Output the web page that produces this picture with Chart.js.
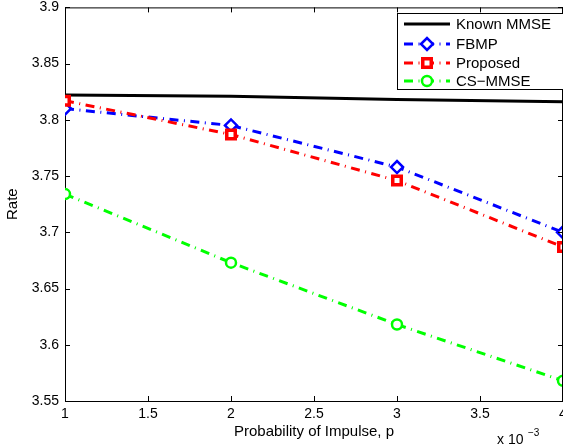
<!DOCTYPE html>
<html lang="en">
<head>
    <meta charset="UTF-8">
    <title>Rate vs Probability of Impulse</title>
    <script src="https://cdn.jsdelivr.net/npm/chart.js"></script>
    <style>
        body {
            margin: 0;
            padding: 0;
            background: #fff;
            overflow: hidden;
            width: 563px;
            height: 448px;
        }
        #rateChart {
            display: block;
            margin-top: -7px;
        }
    </style>
</head>
<body>
<canvas id="rateChart" width="620" height="455"></canvas>

<script>
    // values (p in units of 1e-3)
    const pValues = [1, 2, 3, 4];
    const knownMmse = [3.822, 3.821, 3.818, 3.816];
    const fbmp = [3.810, 3.795, 3.758, 3.700];
    const proposed = [3.817, 3.787, 3.746, 3.687];
    const csMmse = [3.734, 3.673, 3.618, 3.568];
    const xTicks = [1, 1.5, 2, 2.5, 3, 3.5, 4];
    const yTicks = [3.55, 3.6, 3.65, 3.7, 3.75, 3.8, 3.85, 3.9];

    const FONT = '"Liberation Sans", Arial, sans-serif';
    const dashDot = [9, 5.5, 1, 5.5];
    const SHIFT = 7; // canvas is pulled up by this much

    function toPoints(values) {
        return pValues.map((p, i) => ({ x: p, y: values[i] }));
    }

    // inward ticks, top/right box, exponent label and matlab-like legend
    const matlabFrame = {
        id: 'matlabFrame',
        afterDraw(chart) {
            const { ctx, chartArea: a, scales } = chart;
            ctx.save();
            ctx.strokeStyle = '#000';
            ctx.lineWidth = 1;
            ctx.beginPath();
            ctx.moveTo(a.left, a.top + 0.5);
            ctx.lineTo(a.right, a.top + 0.5);
            ctx.moveTo(a.right - 0.5, a.top);
            ctx.lineTo(a.right - 0.5, a.bottom);
            xTicks.forEach(v => {
                const x = Math.round(scales.x.getPixelForValue(v)) + 0.5;
                ctx.moveTo(x, a.bottom);
                ctx.lineTo(x, a.bottom - 5);
                ctx.moveTo(x, a.top);
                ctx.lineTo(x, a.top + 5);
            });
            yTicks.forEach(v => {
                const y = Math.round(scales.y.getPixelForValue(v)) + 0.5;
                ctx.moveTo(a.left, y);
                ctx.lineTo(a.left + 5, y);
                ctx.moveTo(a.right, y);
                ctx.lineTo(a.right - 5, y);
            });
            ctx.stroke();

            // x 10^-3
            ctx.fillStyle = '#000';
            ctx.textBaseline = 'alphabetic';
            ctx.textAlign = 'left';
            ctx.font = '14px ' + FONT;
            ctx.fillText('x 10', 497, 444 + SHIFT);
            ctx.font = '10px ' + FONT;
            ctx.fillText('\u22123', 528, 436 + SHIFT);

            // legend box
            const lx = 397, ly = 13 + SHIFT, lw = 220, lh = 76;
            ctx.fillStyle = '#fff';
            ctx.fillRect(lx, ly, lw, lh);
            ctx.strokeRect(lx + 0.5, ly + 0.5, lw, lh);
            const rows = [24, 44, 63, 81];
            chart.data.datasets.forEach((ds, i) => {
                const y = rows[i] + SHIFT;
                ctx.save();
                ctx.strokeStyle = ds.borderColor;
                ctx.lineWidth = ds.borderWidth;
                ctx.setLineDash(ds.borderDash || []);
                ctx.beginPath();
                ctx.moveTo(404, y);
                ctx.lineTo(450, y);
                ctx.stroke();
                ctx.restore();
                if (ds.pointRadius > 0) {
                    ctx.save();
                    ctx.fillStyle = '#fff';
                    ctx.strokeStyle = ds.borderColor;
                    ctx.lineWidth = ds.pointBorderWidth;
                    Chart.helpers.drawPoint(ctx, {
                        pointStyle: ds.pointStyle,
                        radius: ds.pointRadius,
                        borderWidth: ds.pointBorderWidth
                    }, 427, y);
                    ctx.restore();
                }
                ctx.fillStyle = '#000';
                ctx.font = '15px ' + FONT;
                ctx.textBaseline = 'middle';
                ctx.fillText(ds.label, 456, y + 1);
            });
            ctx.restore();
        }
    };

    const ctx = document.getElementById('rateChart').getContext('2d');
    new Chart(ctx, {
        type: 'line',
        data: {
            datasets: [
                {
                    label: 'Known MMSE',
                    data: toPoints(knownMmse),
                    borderColor: '#000',
                    borderWidth: 3,
                    pointRadius: 0,
                    order: 4
                },
                {
                    label: 'FBMP',
                    data: toPoints(fbmp),
                    borderColor: '#0000ff',
                    borderWidth: 3,
                    borderDash: dashDot,
                    pointStyle: 'rectRot',
                    pointRadius: 6,
                    pointBorderWidth: 2.5,
                    pointBorderColor: '#0000ff',
                    pointBackgroundColor: '#fff',
                    order: 3
                },
                {
                    label: 'Proposed',
                    data: toPoints(proposed),
                    borderColor: '#ff0000',
                    borderWidth: 3,
                    borderDash: dashDot,
                    pointStyle: 'rect',
                    pointRadius: 6,
                    pointBorderWidth: 3.5,
                    pointBorderColor: '#ff0000',
                    pointBackgroundColor: '#fff',
                    order: 2
                },
                {
                    label: 'CS\u2212MMSE',
                    data: toPoints(csMmse),
                    borderColor: '#00ff00',
                    borderWidth: 3,
                    borderDash: dashDot,
                    pointStyle: 'circle',
                    pointRadius: 5,
                    pointBorderWidth: 2.5,
                    pointBorderColor: '#00ff00',
                    pointBackgroundColor: '#fff',
                    order: 1
                }
            ]
        },
        options: {
            responsive: false,
            animation: false,
            layout: {
                padding: { top: 6, right: 57, left: 0, bottom: 0 }
            },
            plugins: {
                legend: { display: false },
                tooltip: { enabled: false }
            },
            scales: {
                x: {
                    type: 'linear',
                    min: 1,
                    max: 4,
                    afterBuildTicks: (scale) => { scale.ticks = xTicks.map(v => ({ value: v })); },
                    afterFit: (scale) => { scale.height = 47; },
                    grid: { display: false, drawTicks: false },
                    border: { display: true, color: '#000', width: 1 },
                    ticks: {
                        color: '#000',
                        font: { family: FONT, size: 14 },
                        padding: 5,
                        maxRotation: 0,
                        callback: (v) => String(v)
                    },
                    title: {
                        display: true,
                        text: 'Probability of Impulse, p',
                        color: '#000',
                        font: { family: FONT, size: 15 },
                        padding: { top: 0, bottom: 7 }
                    }
                },
                y: {
                    min: 3.55,
                    max: 3.9,
                    afterBuildTicks: (scale) => { scale.ticks = yTicks.map(v => ({ value: v })); },
                    afterFit: (scale) => { scale.width = 65; },
                    grid: { display: false, drawTicks: false },
                    border: { display: true, color: '#000', width: 1 },
                    ticks: {
                        color: '#000',
                        font: { family: FONT, size: 14 },
                        padding: 6,
                        callback: (v) => String(Math.round(v * 100) / 100)
                    },
                    title: {
                        display: true,
                        text: 'Rate',
                        color: '#000',
                        font: { family: FONT, size: 15 },
                        padding: { top: 4, bottom: 0 }
                    }
                }
            }
        },
        plugins: [matlabFrame]
    });
</script>
</body>
</html>
